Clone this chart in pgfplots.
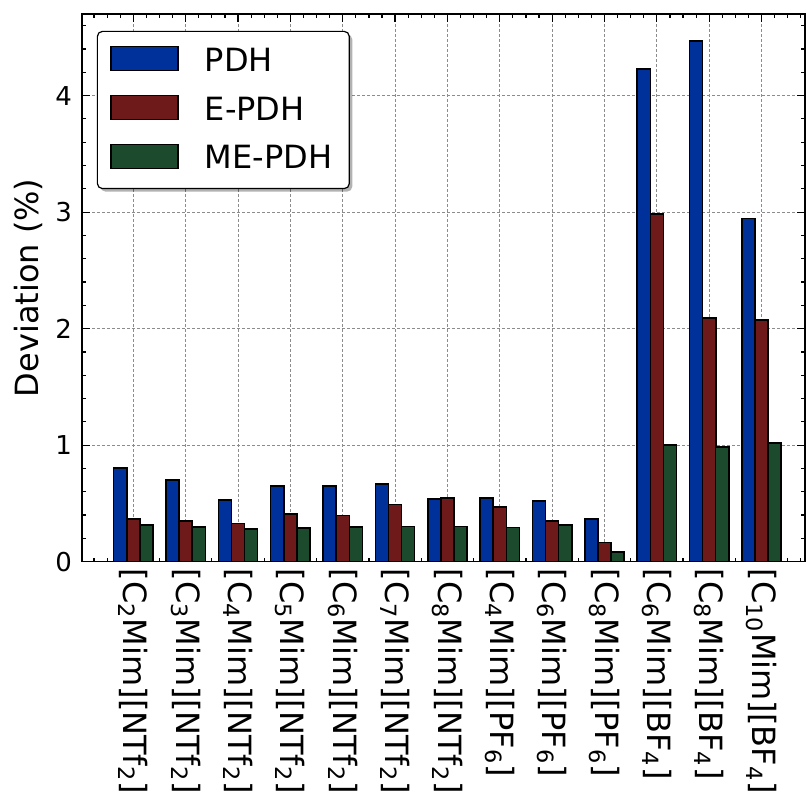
\documentclass[border=0pt]{standalone}
\usepackage{pgfplots}
\usepackage{pgfplotstable}
\pgfplotsset{compat=1.18}
\usepackage{fontspec}
\setmainfont{DejaVu Sans}
\usetikzlibrary{shadows}
\definecolor{cblue}{HTML}{00309A}
\definecolor{cred}{HTML}{6F1A1A}
\definecolor{cgreen}{HTML}{1C4A2C}
\makeatletter
\tikzset{no preactions/.code={\let\tikz@preactions\pgfutil@empty}}
\makeatother

\pgfplotstableread{
x pdh epdh mepdh
0 0.805 0.368 0.317
1 0.700 0.349 0.297
2 0.531 0.326 0.280
3 0.649 0.409 0.289
4 0.649 0.397 0.297
5 0.666 0.490 0.303
6 0.537 0.548 0.303
7 0.548 0.469 0.295
8 0.520 0.349 0.317
9 0.368 0.163 0.083
10 4.228 2.985 1.000
11 4.470 2.090 0.985
12 2.945 2.074 1.020
}\datatable

\begin{document}
\begin{tikzpicture}
\begin{axis}[
  name=ax,
  scale only axis, width=361.5pt, height=273.85pt,
  xmin=-0.98, xmax=12.83, ymin=0, ymax=4.7,
  xtick={0,...,12},
  xticklabels={
    {[C\textsubscript{2}Mim][NTf\textsubscript{2}]},
    {[C\textsubscript{3}Mim][NTf\textsubscript{2}]},
    {[C\textsubscript{4}Mim][NTf\textsubscript{2}]},
    {[C\textsubscript{5}Mim][NTf\textsubscript{2}]},
    {[C\textsubscript{6}Mim][NTf\textsubscript{2}]},
    {[C\textsubscript{7}Mim][NTf\textsubscript{2}]},
    {[C\textsubscript{8}Mim][NTf\textsubscript{2}]},
    {[C\textsubscript{4}Mim][PF\textsubscript{6}]},
    {[C\textsubscript{6}Mim][PF\textsubscript{6}]},
    {[C\textsubscript{8}Mim][PF\textsubscript{6}]},
    {[C\textsubscript{6}Mim][BF\textsubscript{4}]},
    {[C\textsubscript{8}Mim][BF\textsubscript{4}]},
    {[C\textsubscript{10}Mim][BF\textsubscript{4}]}},
  minor xtick={-0.75,-0.5,...,12.75},
  ytick={0,1,2,3,4},
  minor ytick={0.2,0.4,0.6,0.8,1.2,1.4,1.6,1.8,2.2,2.4,2.6,2.8,3.2,3.4,3.6,3.8,4.2,4.4,4.6},
  tick align=inside,
  xtick pos=both, ytick pos=both,
  major tick length=4pt, minor tick length=2pt,
  tick style={line width=0.6pt, black},
  axis line style={line width=0.75pt},
  grid=major,
  major grid style={dash pattern=on 1.5pt off 1pt, black!45, line width=0.5pt},
  /pgf/number format/assume math mode=true,
  yticklabel style={font=\fontsize{13}{15}\selectfont, xshift=-1.5pt},
  xticklabel style={font=\fontsize{16}{19}\selectfont, rotate=-90, anchor=west},
  ylabel={Deviation (\%)},
  ylabel style={font=\fontsize{16}{19}\selectfont, at={(axis description cs:-0.0747,0.5)}, anchor=center},
  legend cell align=left,
  legend style={at={(0,1)}, anchor=north west, xshift=7.4pt, yshift=-8.4pt,
    draw=black, line width=0.6pt, rounded corners=2.5pt, fill=white,
    font=\fontsize{16}{19}\selectfont, inner xsep=6.5pt, inner ysep=6.3pt, row sep=7.25pt,
    drop shadow={shadow xshift=1.5pt, shadow yshift=-1.5pt, fill=black, opacity=0.3},
    /tikz/every odd column/.append style={column sep=11pt}},
]
\addplot[ybar, bar width=0.25, bar shift=-0.25, fill=cblue, draw=black, line width=0.75pt,
  legend image code/.code={\draw[no preactions,sharp corners,fill=cblue,draw=black,line width=0.75pt] (0pt,-4.75pt) rectangle (33.5pt,7.25pt);}]
  table[x=x,y=pdh]{\datatable};
\addplot[ybar, bar width=0.25, bar shift=0, fill=cred, draw=black, line width=0.75pt,
  legend image code/.code={\draw[no preactions,sharp corners,fill=cred,draw=black,line width=0.75pt] (0pt,-4.75pt) rectangle (33.5pt,7.25pt);}]
  table[x=x,y=epdh]{\datatable};
\addplot[ybar, bar width=0.25, bar shift=0.25, fill=cgreen, draw=black, line width=0.75pt,
  legend image code/.code={\draw[no preactions,sharp corners,fill=cgreen,draw=black,line width=0.75pt] (0pt,-4.75pt) rectangle (33.5pt,7.25pt);}]
  table[x=x,y=mepdh]{\datatable};
\legend{PDH,E-PDH,ME-PDH}
\end{axis}
\pgfresetboundingbox
\path ([xshift=-41pt,yshift=-117.65pt]ax.south west) rectangle ([xshift=0.5pt,yshift=7pt]ax.north east);
\end{tikzpicture}
\end{document}
